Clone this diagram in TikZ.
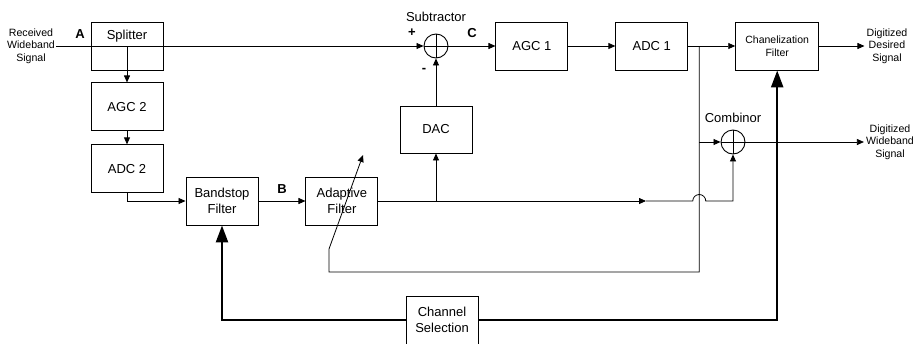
\documentclass[tikz,border=0pt]{standalone}
\usepackage{fontspec}
\setmainfont{Liberation Sans}
\usetikzlibrary{arrows.meta,positioning,calc}

\begin{document}
\begin{tikzpicture}[x=1pt, y=1pt,
    block/.style={rectangle, draw=black, line width=0.9pt, minimum width=72pt, minimum height=48pt, align=center, inner sep=1pt, font=\fontsize{13}{16}\selectfont},
    sumnode/.style={circle, draw=black, line width=0.9pt, minimum size=24pt, inner sep=0pt,
        path picture={\draw[line width=0.7pt] (path picture bounding box.north) -- (path picture bounding box.south)
            (path picture bounding box.west) -- (path picture bounding box.east);}},
    iolabel/.style={align=center, inner sep=2pt, font=\fontsize{10.6}{12.6}\selectfont},
    caption/.style={inner sep=0pt, font=\fontsize{13}{15}\selectfont},
    tag/.style={inner sep=0pt, font=\fontsize{13}{15}\selectfont\bfseries},
    wire/.style={line width=0.8pt},
    sig/.style={-{Triangle[length=7pt,width=6pt]}, line width=0.8pt},
    ctrl/.style={-{Triangle[length=17pt,width=12pt]}, line width=2.4pt}
]
    \useasboundingbox (0,0) rectangle (916,-343);

    % Front end
    \node[iolabel, inner sep=1pt] (recv) at (31,-46) {Received\\Wideband\\Signal};
    \node[block] (split) at (127,-46) {};
    \node[caption, below=8pt of split.north] (splittxt) {Splitter};
    \node[block, below=12pt of split] (agc2) {AGC 2};
    \node[block, below=13pt of agc2] (adc2) {ADC 2};
    \node[block] (bstop) at (222,-201) {Bandstop\\Filter};
    \node[block, right=47pt of bstop] (adapt) {Adaptive\\Filter};

    % Upper branch
    \node[sumnode] (sub) at (436,-46) {};
    \node[block, minimum height=47pt] (dac) at (436,-129.5) {DAC};
    \node[block, right=47pt of sub] (agc1) {AGC 1};
    \node[block, right=47pt of agc1] (adc1) {ADC 1};
    \node[block, right=47pt of adc1, minimum width=83pt, font=\fontsize{10.5}{13}\selectfont] (chan) {Chanelization\\Filter};
    \node[sumnode] (comb) at (733,-142) {};
    \node[iolabel] (desired) at (887,-46) {Digitized\\Desired\\Signal};
    \node[iolabel] (wideout) at (890,-142) {Digitized\\Wideband\\Signal};

    \node[block] (chsel) at (442,-320) {Channel\\Selection};

    % Captions
    \node[caption, above=12pt of sub] (subtxt) {Subtractor};
    \node[caption, above=7pt of comb] (combtxt) {Combinor};
    \node[tag] (plus) at ($(sub)+(-24,13)$) {+};
    \node[tag] (minus) at ($(sub)+(-12,-24)$) {-};
    \node[tag] (tagA) at (80,-34) {A};
    \node[tag] (tagB) at (282,-189) {B};
    \node[tag] (tagC) at (472,-33) {C};

    % Signal path
    \draw[sig] (recv.east) -- (sub.west);
    \draw[sig] (split.center) -- (agc2);
    \draw[sig] (agc2) -- (adc2);
    \draw[sig] (adc2.south) |- (bstop.west);
    \draw[sig] (bstop) -- (adapt);
    \draw[sig] (dac) -- (sub);
    \draw[sig] (sub) -- (agc1);
    \draw[sig] (agc1) -- (adc1);
    \draw[sig] (adc1) -- (chan);
    \draw[sig] (chan) -- (desired);
    \draw[sig] (comb) -- (wideout);

    % Adaptive filter output
    \coordinate (tap) at ($(adc1.east)+(11,0)$);
    \coordinate (flow) at (646,-201);
    \coordinate (hopin) at ($(tap |- adapt.east)+(-6.5,0)$);
    \draw[sig] (adapt.east) -- (flow);
    \draw[sig] (flow) -- (hopin) arc[start angle=180, end angle=0, radius=6.5] -| (comb.south);
    \draw[sig] (dac |- adapt.east) -- (dac);

    % Feedback to adaptive filter
    \coordinate (fbcorner) at (329,-272);
    \coordinate (fbknee) at (329,-249);
    \coordinate (fbtip) at (363,-155);
    \draw[sig] (tap) |- (fbcorner) -- (fbknee) -- (fbtip);
    \draw[sig] (tap |- comb) -- (comb.west);

    % Channel selection
    \draw[ctrl] (chsel.east) -| (chan.south);
    \draw[ctrl] (chsel.west) -| (bstop.south);

\end{tikzpicture}
\end{document}
